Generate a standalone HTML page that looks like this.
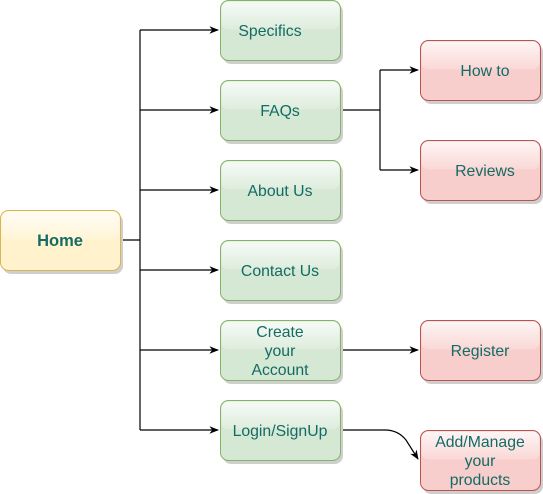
<!DOCTYPE html>
<html><head><style>body{margin:0;background:#fff}svg{display:block}</style></head>
<body>
<svg width="543" height="494" viewBox="0 0 543 494" xmlns="http://www.w3.org/2000/svg" font-family="Liberation Sans, sans-serif" font-size="15.8">
<defs>
<marker id="a" viewBox="0 0 10 10" refX="9" refY="5" markerWidth="8" markerHeight="8" orient="auto"><path d="M0,1 L10,5 L0,9 L3,5 Z" fill="#000"/></marker>
<linearGradient id="gl" x1="0" y1="0" x2="0" y2="1"><stop offset="0" stop-color="#fff" stop-opacity="0.8"/><stop offset="1" stop-color="#fff" stop-opacity="0.2"/></linearGradient>
</defs>
<g fill="none" stroke="#000" stroke-width="1.2">
<path d="M120,240 H140 M140,30 V430"/>
<path d="M140,30 H218" marker-end="url(#a)"/>
<path d="M140,110 H218" marker-end="url(#a)"/>
<path d="M140,190 H218" marker-end="url(#a)"/>
<path d="M140,270 H218" marker-end="url(#a)"/>
<path d="M140,350 H218" marker-end="url(#a)"/>
<path d="M140,430 H218" marker-end="url(#a)"/>
<path d="M340,110 H380 M380,70 V170"/>
<path d="M380,70 H418" marker-end="url(#a)"/>
<path d="M380,170 H418" marker-end="url(#a)"/>
<path d="M340,350 H418" marker-end="url(#a)"/>
<path d="M340,430 H385 Q398,430 406,440 L418,459" marker-end="url(#a)"/>
</g>
<g fill="#cfcfcf">
<rect x="3" y="214" width="120" height="60" rx="8"/>
<rect x="223" y="4" width="120" height="60" rx="8"/>
<rect x="223" y="84" width="120" height="60" rx="8"/>
<rect x="223" y="164" width="120" height="60" rx="8"/>
<rect x="223" y="244" width="120" height="60" rx="8"/>
<rect x="223" y="324" width="120" height="60" rx="8"/>
<rect x="223" y="404" width="120" height="60" rx="8"/>
<rect x="423" y="44" width="120" height="60" rx="8"/>
<rect x="423" y="144" width="120" height="60" rx="8"/>
<rect x="423" y="324" width="120" height="60" rx="8"/>
<rect x="423" y="434" width="120" height="60" rx="8"/>
</g>
<rect x="0.5" y="210.5" width="120" height="60" rx="8" fill="#fff2cc" stroke="#d6b656"/>
<g fill="#d5e8d4" stroke="#82b366">
<rect x="220.5" y="0.5" width="120" height="60" rx="8"/>
<rect x="220.5" y="80.5" width="120" height="60" rx="8"/>
<rect x="220.5" y="160.5" width="120" height="60" rx="8"/>
<rect x="220.5" y="240.5" width="120" height="60" rx="8"/>
<rect x="220.5" y="320.5" width="120" height="60" rx="8"/>
<rect x="220.5" y="400.5" width="120" height="60" rx="8"/>
</g>
<g fill="#f8cecc" stroke="#b85450">
<rect x="420.5" y="40.5" width="120" height="60" rx="8"/>
<rect x="420.5" y="140.5" width="120" height="60" rx="8"/>
<rect x="420.5" y="320.5" width="120" height="60" rx="8"/>
<rect x="420.5" y="430.5" width="120" height="60" rx="8"/>
</g>
<g fill="url(#gl)">
<rect x="1.5" y="211.5" width="118" height="28" rx="7"/>
<rect x="221.5" y="1.5" width="118" height="28" rx="7"/>
<rect x="221.5" y="81.5" width="118" height="28" rx="7"/>
<rect x="221.5" y="161.5" width="118" height="28" rx="7"/>
<rect x="221.5" y="241.5" width="118" height="28" rx="7"/>
<rect x="221.5" y="321.5" width="118" height="28" rx="7"/>
<rect x="221.5" y="401.5" width="118" height="28" rx="7"/>
<rect x="421.5" y="41.5" width="118" height="28" rx="7"/>
<rect x="421.5" y="141.5" width="118" height="28" rx="7"/>
<rect x="421.5" y="321.5" width="118" height="28" rx="7"/>
<rect x="421.5" y="431.5" width="118" height="28" rx="7"/>
</g>
<g fill="#136b66" text-anchor="middle">
<text x="60" y="246" font-weight="bold" font-size="16.5">Home</text>
<text x="270" y="36">Specifics</text>
<text x="280" y="116">FAQs</text>
<text x="280" y="196">About Us</text>
<text x="280" y="276">Contact Us</text>
<text x="280" y="337">Create</text>
<text x="280" y="356">your</text>
<text x="280" y="375">Account</text>
<text x="280" y="436">Login/SignUp</text>
<text x="485" y="76">How to</text>
<text x="485" y="176">Reviews</text>
<text x="480" y="356">Register</text>
<text x="480" y="447">Add/Manage</text>
<text x="480" y="466">your</text>
<text x="480" y="485">products</text>
</g>
</svg>
</body></html>
